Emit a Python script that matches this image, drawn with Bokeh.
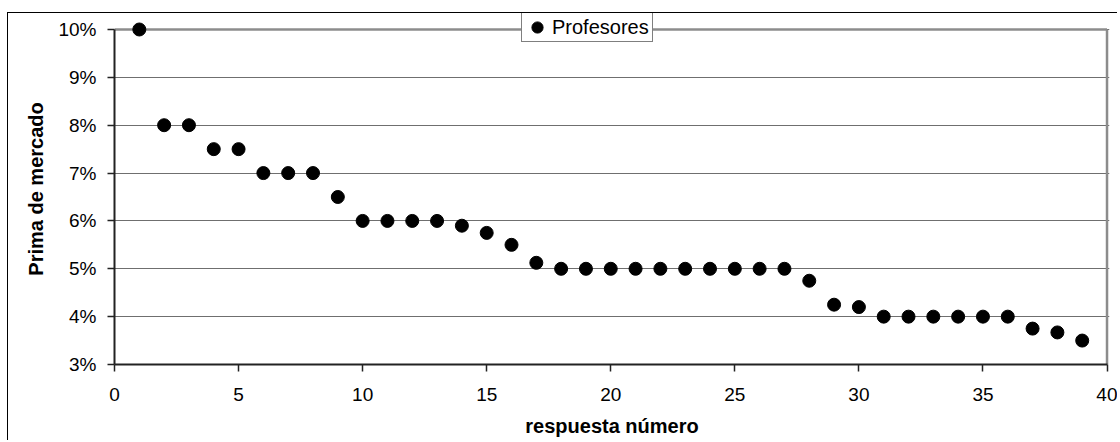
from bokeh.plotting import figure
from bokeh.models import Range1d, FixedTicker, NumeralTickFormatter, Legend, LegendItem
from bokeh.embed import file_html
from bokeh.resources import INLINE

# Data
respuesta = list(range(1, 40))
prima = [0.10, 0.08, 0.08, 0.075, 0.075, 0.07, 0.07, 0.07, 0.065, 0.06,
         0.06, 0.06, 0.06, 0.059, 0.0575, 0.055, 0.05125, 0.05, 0.05, 0.05,
         0.05, 0.05, 0.05, 0.05, 0.05, 0.05, 0.05, 0.0475, 0.0425, 0.042,
         0.04, 0.04, 0.04, 0.04, 0.04, 0.04, 0.0375, 0.0367, 0.035]
x_ticks = [0, 5, 10, 15, 20, 25, 30, 35, 40]
y_ticks = [0.03, 0.04, 0.05, 0.06, 0.07, 0.08, 0.09, 0.10]
series_name = "Profesores"
x_label = "respuesta número"
y_label = "Prima de mercado"

FONT = "Liberation Sans"
xmin, xmax = x_ticks[0], x_ticks[-1]
ymin, ymax = y_ticks[0], y_ticks[-1]

p = figure(width=1110, height=428, output_backend="svg", toolbar_location=None,
           x_range=Range1d(xmin, xmax + 0.1), y_range=Range1d(ymin, ymax + 0.00334),
           min_border_left=106, min_border_right=9, min_border_top=0, min_border_bottom=77)
p.styles = {"margin-top": "12px", "margin-left": "7px",
            "border-left": "1px solid black", "border-top": "1px solid black"}
p.outline_line_alpha = 0
p.background_fill_color = "white"
p.border_fill_color = "white"

# plot-area border (top and right) in gray
p.segment(x0=[xmin, xmax], y0=[ymax, ymin], x1=[xmax, xmax], y1=[ymax, ymax],
          line_color="#8c8c8c", line_width=2.5)

r = p.scatter(respuesta, prima, size=13, color="black")

# axes
for ax in (p.xaxis[0], p.yaxis[0]):
    ax.axis_line_color = "#222222"
    ax.axis_line_width = 2
    ax.major_tick_line_color = "#222222"
    ax.major_tick_line_width = 1.5
    ax.major_tick_out = 7
    ax.major_tick_in = 0
    ax.minor_tick_out = 0
    ax.minor_tick_in = 0
    ax.major_label_text_font = FONT
    ax.major_label_text_font_size = "19px"
    ax.major_label_text_color = "black"
    ax.axis_label_text_font = FONT
    ax.axis_label_text_font_size = "20px"
    ax.axis_label_text_font_style = "bold"
    ax.axis_label_text_color = "black"

p.xaxis.ticker = FixedTicker(ticks=x_ticks)
p.xaxis.bounds = (xmin, xmax)
p.xaxis.major_label_standoff = 16
p.xaxis.axis_label = x_label
p.xaxis.axis_label_standoff = 11

p.yaxis.ticker = FixedTicker(ticks=y_ticks)
p.yaxis.bounds = (ymin, ymax)
p.yaxis.formatter = NumeralTickFormatter(format="0%")
p.yaxis.major_label_standoff = 11
p.yaxis.axis_label = y_label
p.yaxis.axis_label_standoff = 8

p.xgrid.grid_line_color = None
p.ygrid.grid_line_color = "#6f6f6f"
p.ygrid.grid_line_width = 1

legend = Legend(items=[LegendItem(label=series_name, renderers=[r])],
                location=(407, 322), orientation="vertical",
                glyph_width=30, glyph_height=28, label_height=28, label_width=100,
                padding=0, spacing=0, margin=0,
                label_standoff=0, border_line_color="black", border_line_width=1,
                background_fill_color="white", background_fill_alpha=1,
                label_text_font=FONT, label_text_font_size="20px", label_text_color="black")
p.add_layout(legend, "center")

open("out.html", "w").write(file_html(p, INLINE))
